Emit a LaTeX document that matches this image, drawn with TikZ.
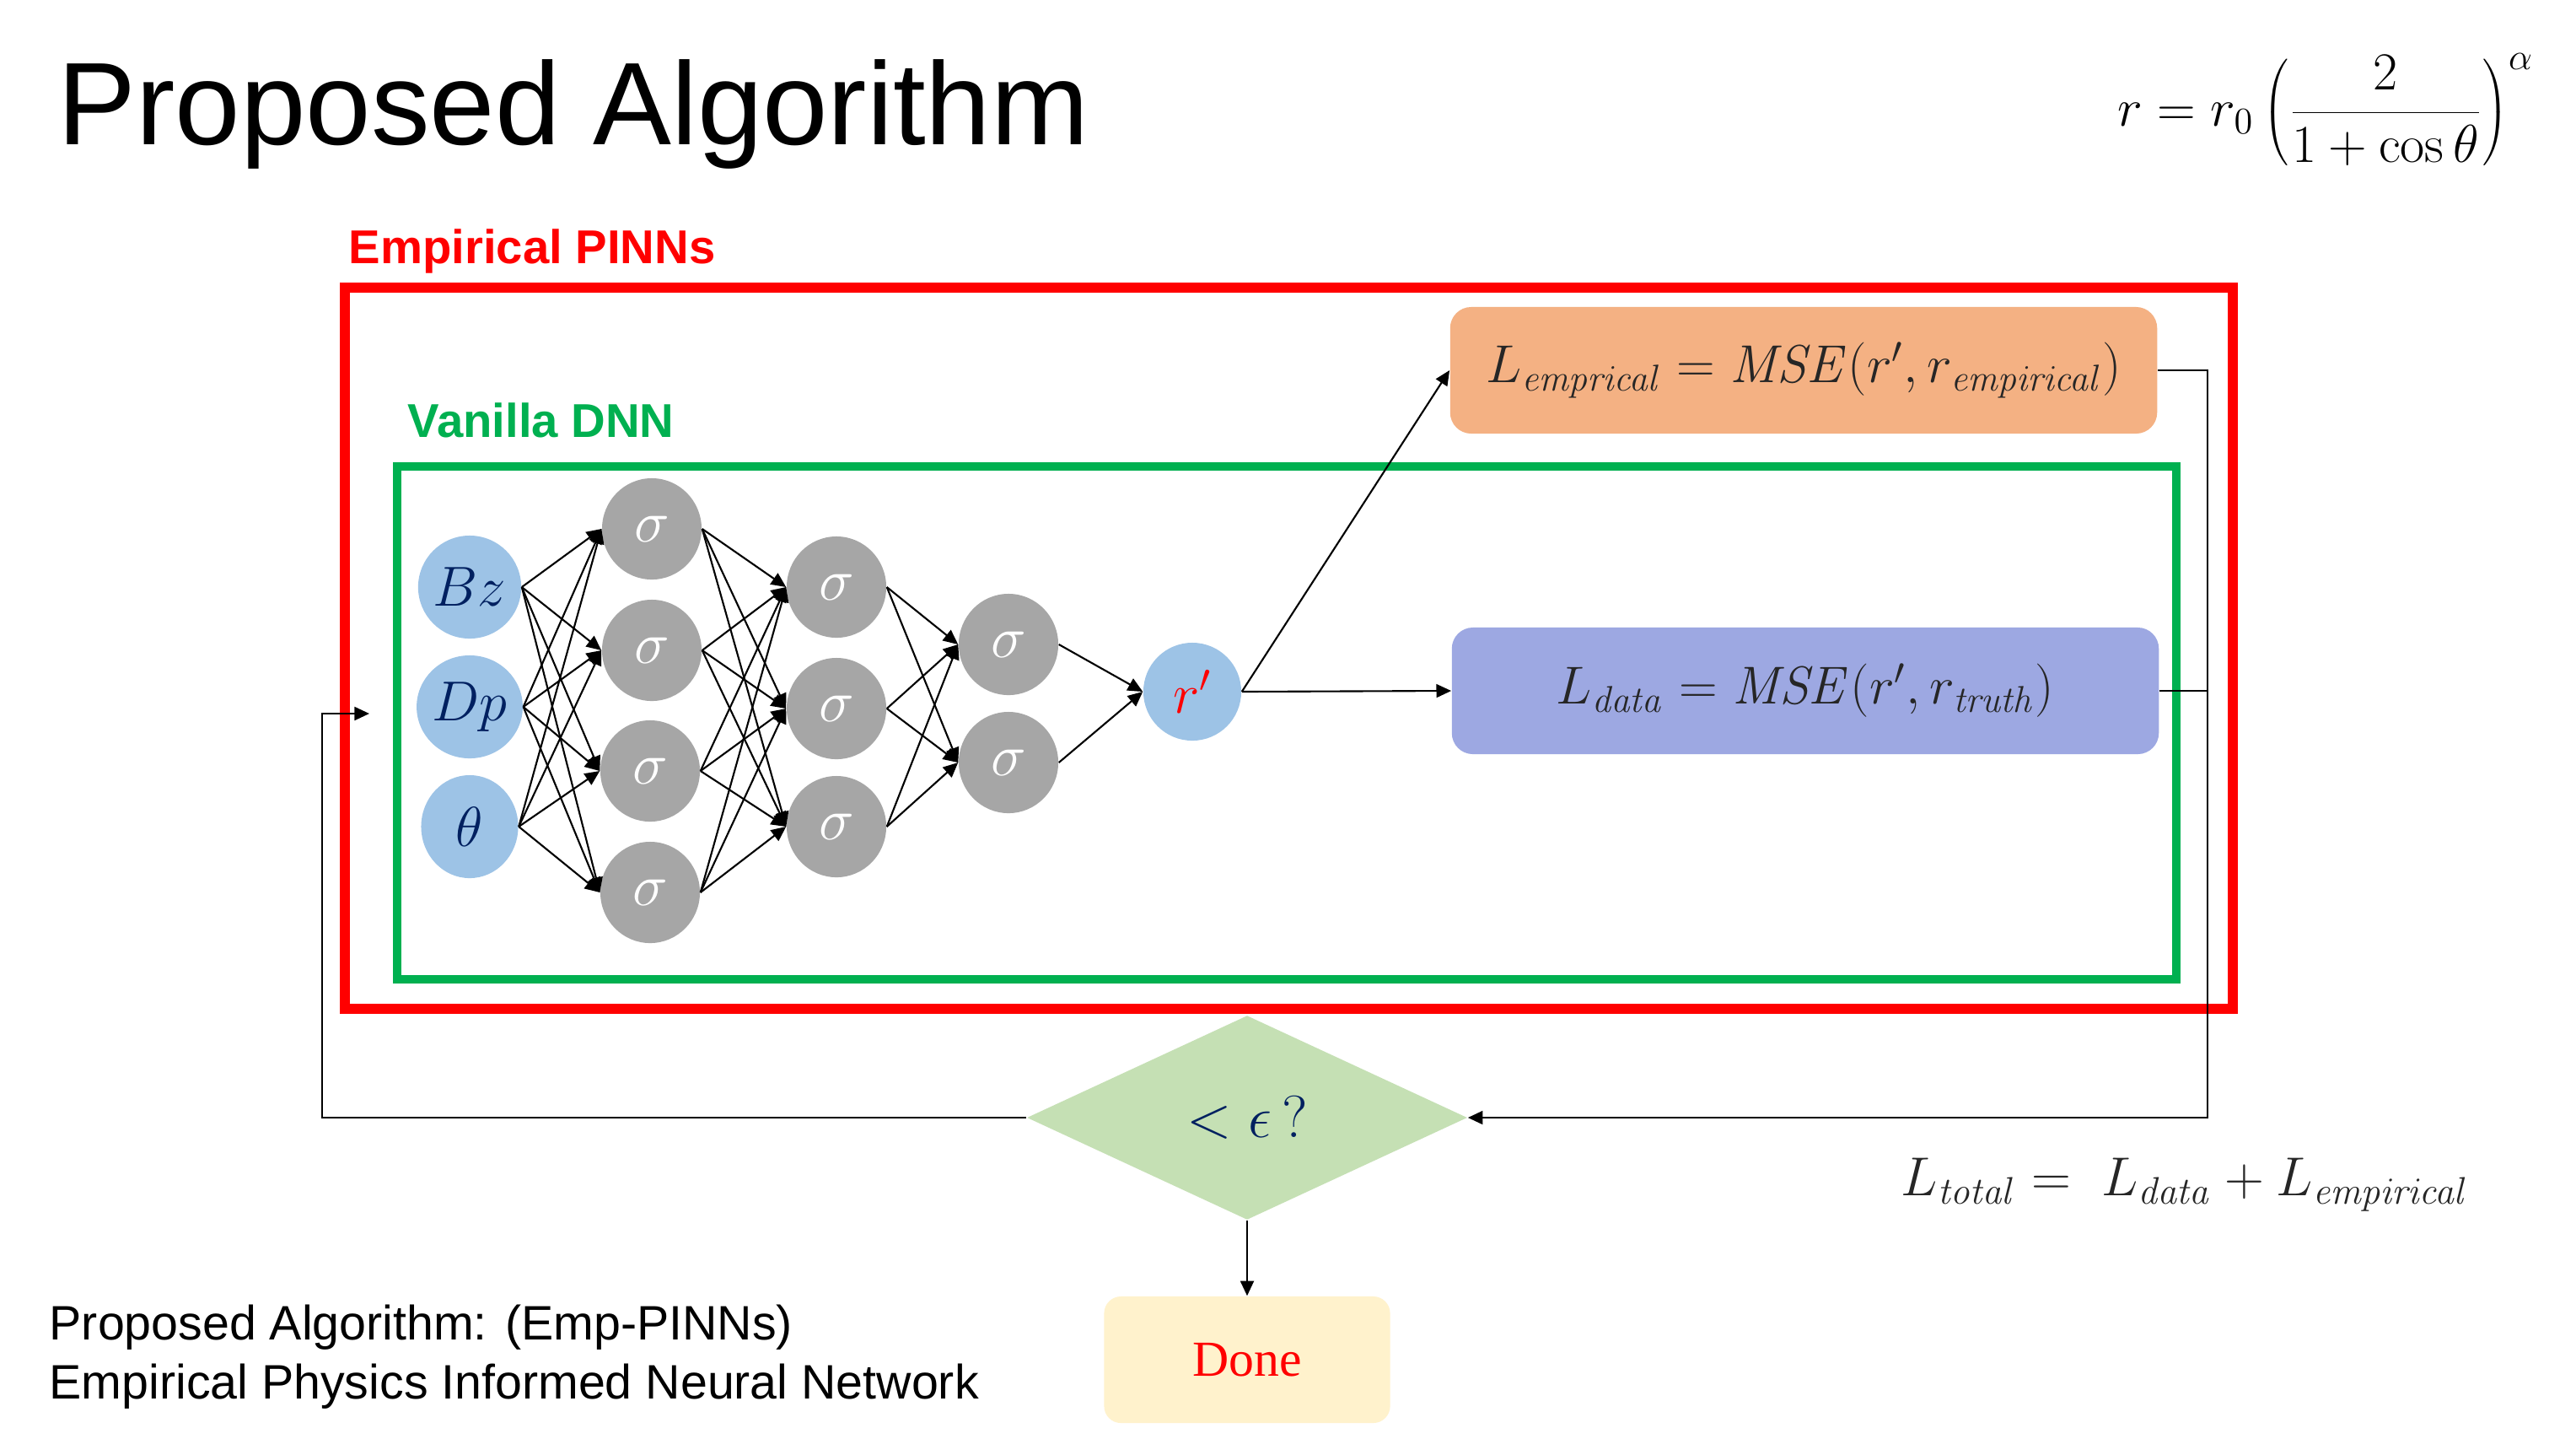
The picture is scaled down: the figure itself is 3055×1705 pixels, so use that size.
\RequirePackage{fix-cm}
\documentclass[tikz,border=0pt]{standalone}
\usepackage[no-math]{fontspec}
\setmainfont{Liberation Sans}
\newfontfamily\donefont{Liberation Serif}
\usetikzlibrary{arrows.meta,shapes.geometric}

\definecolor{inblue}{HTML}{9DC3E6}
\definecolor{hidgray}{HTML}{A6A6A6}
\definecolor{navy}{HTML}{002060}
\definecolor{lossorange}{HTML}{F4B183}
\definecolor{losslav}{HTML}{9DA8E2}
\definecolor{decgreen}{HTML}{C5E0B4}
\definecolor{donefill}{HTML}{FFF2CC}
\definecolor{pinnred}{HTML}{FF0000}
\definecolor{dnngreen}{HTML}{00B050}
\definecolor{formgray}{HTML}{262626}

\tikzset{
  inp/.style={ellipse,fill=inblue,minimum width=1.15cm,minimum height=1.22cm,inner sep=0pt,text=navy,font=\fontsize{19}{22}\selectfont},
  hid/.style={ellipse,fill=hidgray,minimum width=1.18cm,minimum height=1.2cm,inner sep=0pt,text=white,font=\fontsize{20}{24}\selectfont},
  lossbox/.style={rounded corners=0.25cm,minimum width=8.38cm,minimum height=1.5cm,inner sep=0pt,text=formgray,font=\fontsize{18}{22}\selectfont},
  conn/.style={-{Triangle[length=5pt,width=4.5pt]},line width=0.6pt},
  fb/.style={-{Triangle[length=5pt,width=4.5pt]},line width=0.7pt},
  framelabel/.style={anchor=base west,inner sep=0pt,font=\fontsize{16}{19}\selectfont\bfseries}
}

\begin{document}
\begin{tikzpicture}[x=0.01cm,y=-0.01cm]
  \useasboundingbox[fill=white] (0,0) rectangle (3055,1705);

  % title and formula
  \node[anchor=base west,inner sep=0pt,font=\fontsize{39.6}{46}\selectfont] (title) at (68,171) {Proposed Algorithm};
  \node[font=\fontsize{18}{22}\selectfont] (rform) at (2758,130) {$\displaystyle r = r_0\left(\frac{2}{1+\cos\theta}\right)^{\alpha}$};

  % frames
  \draw[pinnred,line width=3.4pt] (409,341) rectangle (2648,1196);
  \node[framelabel,text=pinnred] (pinnlbl) at (413,312) {Empirical PINNs};
  \draw[dnngreen,line width=2.85pt] (471,553) rectangle (2581,1161);
  \node[framelabel,text=dnngreen] (dnnlbl) at (483,518) {Vanilla DNN};

  % network
  \node[inp] (in1) at (557,696) {$Bz$};
  \node[inp] (in2) at (557,838) {$Dp$};
  \node[inp] (in3) at (557,980) {$\theta$};
  \node[hid] (ha1) at (773,627) {$\sigma$};
  \node[hid] (ha2) at (773,771) {$\sigma$};
  \node[hid] (ha3) at (771,914) {$\sigma$};
  \node[hid] (ha4) at (771,1058) {$\sigma$};
  \node[hid] (hb1) at (992,696) {$\sigma$};
  \node[hid] (hb2) at (992,840) {$\sigma$};
  \node[hid] (hb3) at (992,980) {$\sigma$};
  \node[hid] (hc1) at (1196,764) {$\sigma$};
  \node[hid] (hc2) at (1196,904) {$\sigma$};
  \node[inp,circle,minimum size=1.16cm] (out) at (1414,820) {\textcolor{pinnred}{$r'$}};

  \foreach \i in {1,2,3}
    \foreach \j in {1,...,4}
      \draw[conn] (in\i.east) -- (ha\j.west);
  \foreach \i in {1,...,4}
    \foreach \j in {1,2,3}
      \draw[conn] (ha\i.east) -- (hb\j.west);
  \foreach \i in {1,2,3}
    \foreach \j in {1,2}
      \draw[conn] (hb\i.east) -- (hc\j.west);
  \foreach \i in {1,2}
    \draw[conn] (hc\i.east) -- (out.west);

  % losses
  \node[lossbox,fill=lossorange] (emp) at (2139,439) {$L_{\mathit{emprical}} = \mathit{MSE}(r',r_{\mathit{empirical}})$};
  \node[lossbox,fill=losslav] (data) at (2141,819) {$L_{\mathit{data}} = \mathit{MSE}(r',r_{\mathit{truth}})$};
  \draw[conn] (out.east) -- (emp.west);
  \draw[conn] (out.east) -- (data.west);

  % decision and loop
  \node[diamond,aspect=2.16,fill=decgreen,minimum width=5.22cm,minimum height=2.42cm,inner sep=0pt,text=navy,font=\fontsize{20}{24}\selectfont] (dec) at (1479,1325) {$<\epsilon\,?$};
  \node[rounded corners=0.2cm,fill=donefill,minimum width=3.39cm,minimum height=1.5cm,text=pinnred,font=\donefont\fontsize{17}{20}\selectfont] (done) at (1479,1612) {Done};
  \coordinate (bus) at (2618,1325);
  \coordinate (lp) at (382,1325);
  \coordinate (entry) at (438,846);
  \draw[fb] (emp.east) -| (bus) -- (dec.east);
  \draw[line width=0.7pt] (data.east) -- (data.east -| bus);
  \draw[fb] (dec.west) -- (lp) |- (entry);
  \draw[fb] (dec.south) -- (done.north);

  \node[text=formgray,font=\fontsize{18.5}{22}\selectfont] (ltotal) at (2591,1405) {$L_{\mathit{total}} =\ L_{\mathit{data}} + L_{\mathit{empirical}}$};

  % caption
  \node[anchor=base west,inner sep=0pt,font=\fontsize{16.3}{19}\selectfont] (cap1) at (58,1588) {Proposed Algorithm: (Emp-PINNs)};
  \node[anchor=base west,inner sep=0pt,font=\fontsize{16.3}{19}\selectfont] (cap2) at (58,1658) {Empirical Physics Informed Neural Network};
\end{tikzpicture}
\end{document}
